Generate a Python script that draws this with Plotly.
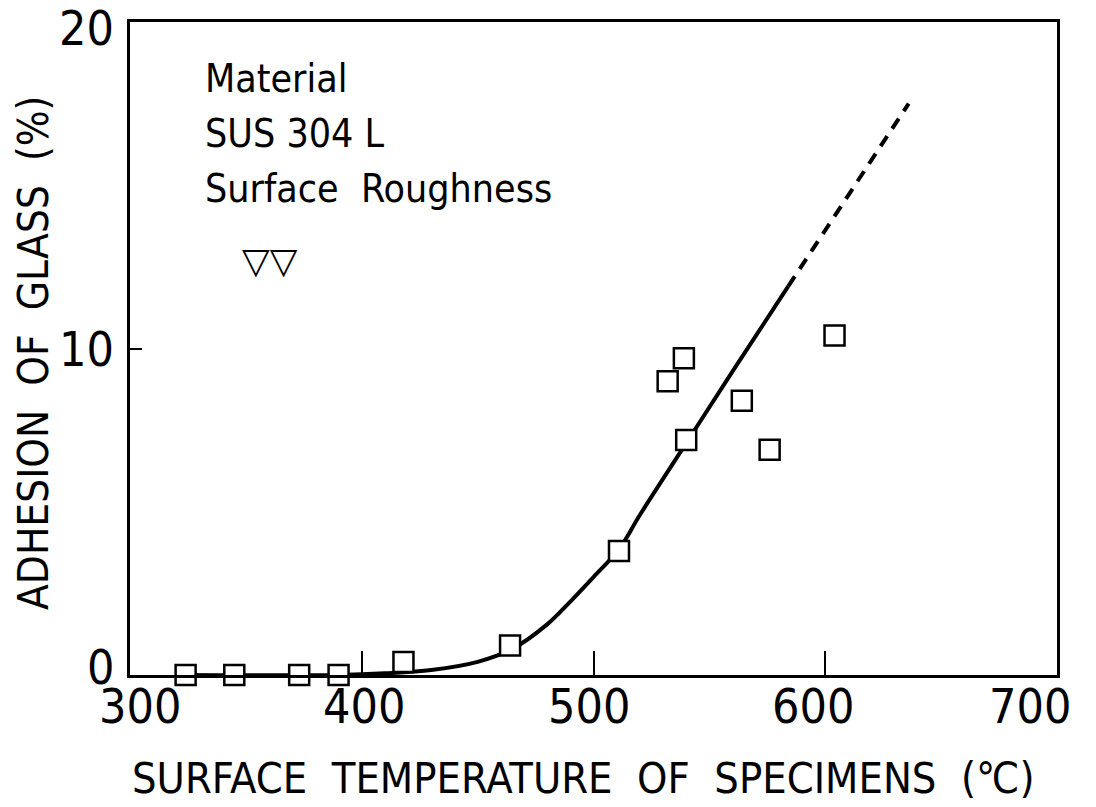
import plotly.graph_objects as go

# Measured specimens
temp_c = [324, 345, 373, 390, 418, 464, 511, 532, 539, 540, 564, 576, 604]
adhesion_pct = [0.0, 0.0, 0.0, 0.0, 0.4, 0.9, 3.8, 9.0, 9.7, 7.2, 8.4, 6.9, 10.4]

# Fitted curve (solid) and extrapolation (dashed)
curve_t = [320, 390, 410, 430, 450, 465, 480, 490, 500, 511, 520, 540, 560, 584]
curve_y = [0.0, 0.0, 0.05, 0.15, 0.4, 0.8, 1.55, 2.25, 3.0, 3.85, 4.9, 7.1, 9.3, 11.9]
extrap_t = [584, 636]
extrap_y = [11.9, 17.5]

x_ticks = [300, 400, 500, 600, 700]
x_tick_labels = ["300", "400", "500", "600", "700"]
y_ticks = [0, 10, 20]
y_tick_labels = ["0", "10", "20"]

FONT = "DejaVu Sans Condensed, Roboto, sans-serif"

# plot area in the page: x 130..1057, y 22..675 (body margin removed below)
L, T, R, B = 130, 22, 1057, 675
W, H = 1096, 807

fig = go.Figure()
fig.add_trace(go.Scatter(x=curve_t, y=curve_y, mode="lines", line=dict(color="black", width=4, shape="spline", smoothing=1.0), showlegend=False))
fig.add_trace(go.Scatter(x=extrap_t, y=extrap_y, mode="lines", line=dict(color="black", width=4, dash="12px,9px"), showlegend=False))
fig.add_trace(go.Scatter(x=temp_c, y=adhesion_pct, mode="markers",
                         marker=dict(symbol="square", size=20, color="white", line=dict(color="black", width=2.5)),
                         showlegend=False, cliponaxis=False))

fig.update_layout(
    width=W, height=H,
    margin=dict(l=L, r=W - R, t=T, b=H - B),
    paper_bgcolor="white", plot_bgcolor="white",
    font=dict(family=FONT, color="black", size=46),
    xaxis=dict(range=[300, 700], tickvals=x_ticks, ticks="inside", ticklen=24, tickwidth=2, tickcolor="black",
               showticklabels=False,
               showline=True, linecolor="black", linewidth=3, mirror=True, showgrid=False, zeroline=False,
               automargin=False),
    yaxis=dict(range=[0, 20], tickvals=y_ticks, ticks="inside", ticklen=12, tickwidth=2, tickcolor="black",
               showticklabels=False,
               showline=True, linecolor="black", linewidth=3, mirror=True, showgrid=False, zeroline=False,
               automargin=False),
)

# tick labels (placed like the original drawing: last x label pulled inside the page)
x_shift = {300: 10, 400: 2, 500: -5, 600: -12, 700: -27}
for v, lab in zip(x_ticks, x_tick_labels):
    fig.add_annotation(text=lab, x=v, xref="x", y=0, yref="paper", yanchor="top", xanchor="center",
                       xshift=x_shift[v], yshift=-1, showarrow=False, font=dict(size=48, family=FONT))
y_shift = {0: 8, 10: 0, 20: -6}
for v, lab in zip(y_ticks, y_tick_labels):
    fig.add_annotation(text=lab, x=0, xref="paper", y=v, yref="y", xanchor="right", yanchor="middle",
                       xshift=-14, yshift=y_shift[v], showarrow=False, font=dict(size=48, family=FONT))

# axis titles
fig.add_annotation(text="SURFACE  TEMPERATURE  OF  SPECIMENS  (℃)", x=0.5, xref="paper", y=(675 - 778) / (B - T), yref="paper",
                   xanchor="center", yanchor="middle", showarrow=False, font=dict(size=43, family=FONT), xshift=-10)
fig.add_annotation(text="ADHESION  OF  GLASS  (%)", x=(33 - 130) / (R - L), xref="paper", y=(675 - 353) / (B - T), yref="paper",
                   xanchor="center", yanchor="middle", textangle=-90, showarrow=False, font=dict(size=42, family=FONT))

PW, PH = R - L, B - T
texts = [("Material", 95), ("SUS 304 L", 150), ("Surface  Roughness", 205)]
for t, base in texts:
    fig.add_annotation(text=t, xref="paper", yref="paper", x=(205 - 2 - L) / PW, y=(675 - base - 8) / PH,
                       xanchor="left", yanchor="bottom", showarrow=False, font=dict(size=39, family=FONT))
fig.add_annotation(text="▽▽", xref="paper", yref="paper", x=(240 - L) / PW, y=(675 - 260) / PH,
                   xanchor="left", yanchor="middle", showarrow=False, font=dict(size=36, family="DejaVu Sans"))

fig.write_html("out.html", config={"displayModeBar": False},
               post_script="document.body.style.margin='0';document.body.style.overflow='hidden';")
